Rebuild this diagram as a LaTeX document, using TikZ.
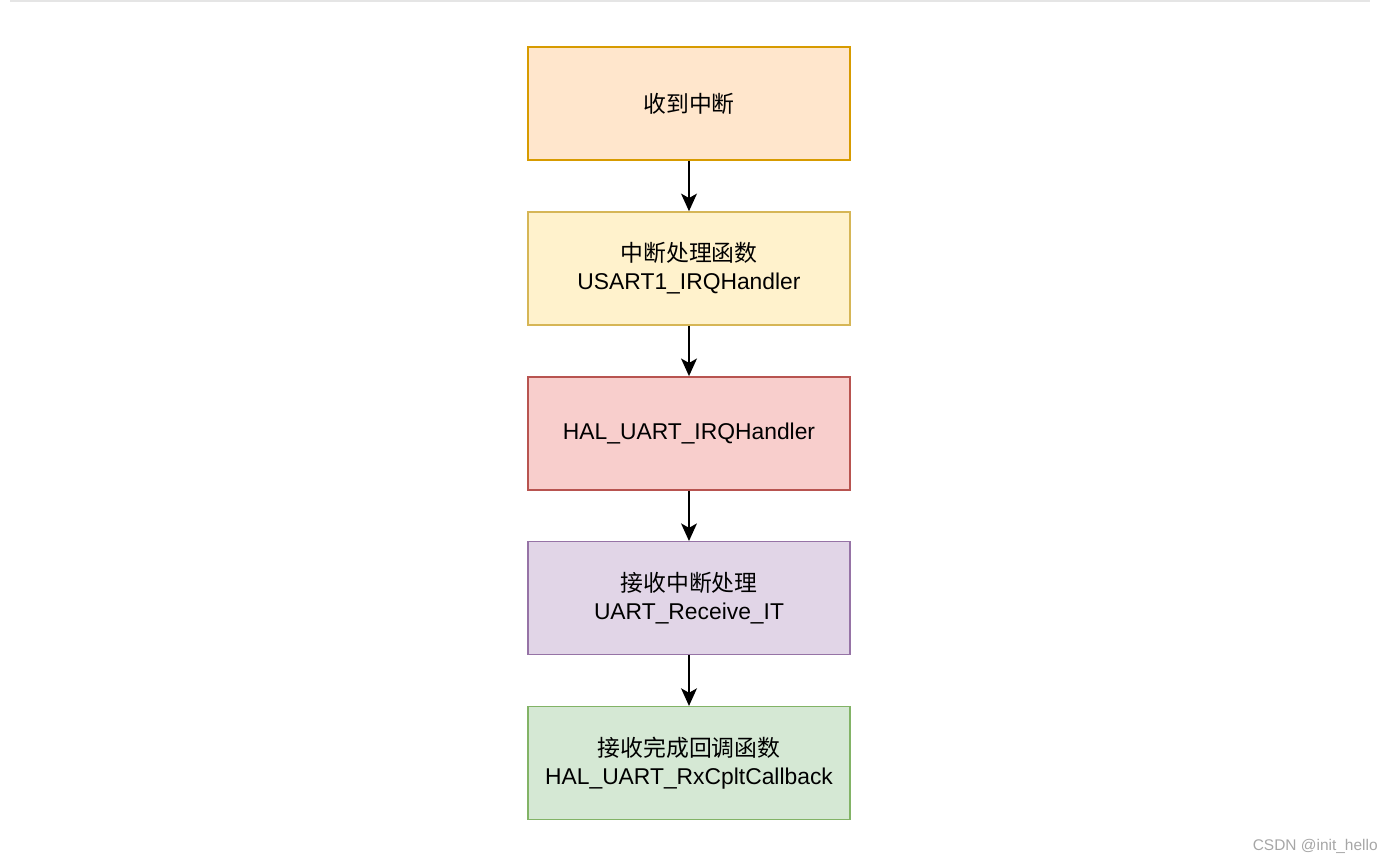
\documentclass[tikz,border=0pt]{standalone}
\usepackage{fontspec}
\setmainfont{Liberation Sans}
\newfontfamily\cjk{Noto Sans CJK SC}
\usepackage{xcolor}
\usetikzlibrary{positioning, arrows.meta}

\definecolor{orangefill}{HTML}{FFE6CC}
\definecolor{orangeline}{HTML}{D79B00}
\definecolor{yellowfill}{HTML}{FFF2CC}
\definecolor{yellowline}{HTML}{D6B656}
\definecolor{redfill}{HTML}{F8CECC}
\definecolor{redline}{HTML}{B85450}
\definecolor{purplefill}{HTML}{E1D5E7}
\definecolor{purpleline}{HTML}{9673A6}
\definecolor{greenfill}{HTML}{D5E8D4}
\definecolor{greenline}{HTML}{82B366}

\tikzset{
  stepbox/.style={draw, line width=0.8pt, minimum width=6.44cm, minimum height=2.26cm,
    align=center, font=\fontsize{13}{16}\selectfont, inner sep=0pt},
  flow/.style={-{Stealth[length=10pt, width=9pt, inset=2.5pt]}, line width=1.1pt, black}
}

\begin{document}
\begin{tikzpicture}[node distance=1.01cm]
\useasboundingbox (0,0) rectangle (27.84,-17.22);
% top rule
\draw[line width=1pt, gray!20] (0.2,-0.02) -- (27.4,-0.02);

% steps of the interrupt chain
\node[stepbox, fill=orangefill, draw=orangeline] (irq) at (13.78,-2.07) {\cjk 收到中断};
\node[stepbox, fill=yellowfill, draw=yellowline, below=of irq] (usart) {{\cjk 中断处理函数}\\USART1\_IRQHandler};
\node[stepbox, fill=redfill, draw=redline, below=of usart] (hal) {HAL\_UART\_IRQHandler};
\node[stepbox, fill=purplefill, draw=purpleline, below=of hal] (recv) {{\cjk 接收中断处理}\\UART\_Receive\_IT};
\node[stepbox, fill=greenfill, draw=greenline, below=of recv] (cplt) {{\cjk 接收完成回调函数}\\HAL\_UART\_RxCpltCallback};

% arrows
\draw[flow] (irq) -- (usart);
\draw[flow] (usart) -- (hal);
\draw[flow] (hal) -- (recv);
\draw[flow] (recv) -- (cplt);

% watermark
\node[anchor=base east, inner sep=0pt, text=gray!70, font=\fontsize{8.8}{11}\selectfont] (mark) at (27.56,-17.0) {CSDN @init\_hello};
\end{tikzpicture}
\end{document}
